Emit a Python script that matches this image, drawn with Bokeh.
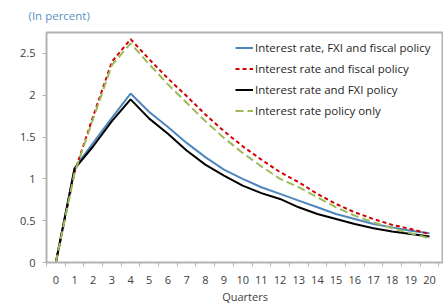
from bokeh.plotting import figure
from bokeh.models import FixedTicker, Legend, LegendItem, Range1d
from bokeh.embed import file_html
from bokeh.resources import INLINE

quarters = list(range(0, 21))
irate_fxi_fiscal = [0, 1.13, 1.43, 1.73, 2.02, 1.80, 1.62, 1.43, 1.26, 1.11, 1.00, 0.90, 0.82, 0.74, 0.66, 0.58, 0.52, 0.46, 0.42, 0.38, 0.35]
irate_fiscal = [0, 1.08, 1.75, 2.40, 2.67, 2.43, 2.20, 1.99, 1.77, 1.57, 1.39, 1.23, 1.08, 0.96, 0.82, 0.70, 0.60, 0.52, 0.45, 0.40, 0.34]
irate_fxi = [0, 1.12, 1.39, 1.69, 1.95, 1.72, 1.54, 1.34, 1.17, 1.04, 0.92, 0.83, 0.76, 0.66, 0.58, 0.52, 0.46, 0.41, 0.37, 0.34, 0.31]
irate_only = [0, 1.07, 1.72, 2.36, 2.62, 2.37, 2.13, 1.91, 1.69, 1.49, 1.31, 1.15, 1.00, 0.90, 0.78, 0.66, 0.56, 0.48, 0.41, 0.35, 0.29]
y_ticks = [0, 0.5, 1, 1.5, 2, 2.5]
y_labels = ["0", "0.5", "1", "1.5", "2", "2.5"]

FONT = "Open Sans"
GRAY = "#b3b3b3"
TXT = "#404040"

p = figure(width=443, height=307, output_backend="svg", toolbar_location=None,
           x_range=Range1d(-0.5, 20.75), y_range=Range1d(0, 2.75),
           min_border_left=46, min_border_right=0, min_border_top=31, min_border_bottom=45)
p.xgrid.visible = False
p.ygrid.visible = False
p.outline_line_color = GRAY
p.outline_line_width = 2
p.background_fill_color = "white"
p.border_fill_color = "white"

p.title.text = "(In percent)"
p.title.align = "left"
p.title.vertical_align = "top"
p.title.offset = -18
p.title.standoff = 15
p.title.text_line_height = 1.0
p.title.text_font = FONT
p.title.text_font_size = "11.5px"
p.title.text_font_style = "normal"
p.title.text_color = "#5b8fc4"

r_blue = p.line(quarters, irate_fxi_fiscal, line_color="#4f86bd", line_width=2)
r_red = p.line(quarters, irate_fiscal, line_color="#d40000", line_width=2, line_dash="4 3")
r_black = p.line(quarters, irate_fxi, line_color="#000000", line_width=2)
r_green = p.line(quarters, irate_only, line_color="#9bbb59", line_width=2, line_dash="8 4")

# x axis
xa = p.xaxis[0]
xa.ticker = FixedTicker(ticks=quarters, minor_ticks=[q - 0.5 for q in quarters] + [20.5])
xa.major_tick_out = 0
xa.major_tick_in = 0
xa.minor_tick_out = 4
xa.minor_tick_in = 0
xa.minor_tick_line_color = GRAY
xa.axis_line_color = GRAY
xa.major_label_standoff = 9
xa.major_label_text_font = FONT
xa.major_label_text_font_size = "11px"
xa.major_label_text_color = TXT
xa.axis_label = "Quarters"
xa.axis_label_text_font = FONT
xa.axis_label_text_font_size = "11px"
xa.axis_label_text_font_style = "normal"
xa.axis_label_text_color = TXT
xa.axis_label_standoff = 2

# y axis
ya = p.yaxis[0]
ya.ticker = FixedTicker(ticks=y_ticks, minor_ticks=[])
ya.major_label_overrides = {t: l for t, l in zip(y_ticks, y_labels)}
ya.major_tick_out = 4
ya.major_tick_in = 0
ya.major_tick_line_color = GRAY
ya.axis_line_color = GRAY
ya.major_label_standoff = 7
ya.major_label_text_font = FONT
ya.major_label_text_font_size = "11px"
ya.major_label_text_color = TXT

legend = Legend(items=[
    LegendItem(label="Interest rate, FXI and fiscal policy", renderers=[r_blue]),
    LegendItem(label="Interest rate and fiscal policy", renderers=[r_red]),
    LegendItem(label="Interest rate and FXI policy", renderers=[r_black]),
    LegendItem(label="Interest rate policy only", renderers=[r_green]),
], location=(189, 141))
legend.border_line_color = None
legend.background_fill_alpha = 0
legend.padding = 0
legend.margin = 0
legend.spacing = 0
legend.glyph_width = 18
legend.glyph_height = 21
legend.label_height = 21
legend.label_standoff = 2
legend.label_text_font = FONT
legend.label_text_font_size = "11.5px"
legend.label_text_color = "#262626"
p.add_layout(legend)

open("out.html", "w").write(file_html(p, INLINE))
